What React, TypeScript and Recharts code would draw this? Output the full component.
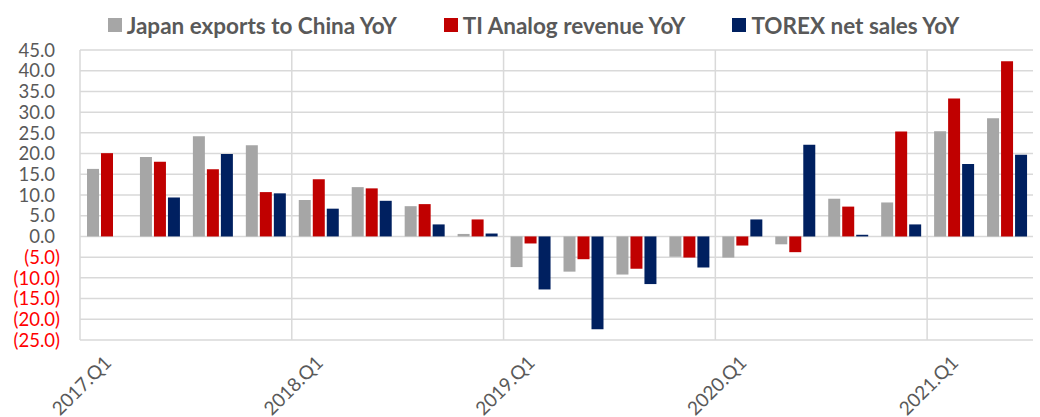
import {
  Bar,
  BarChart,
  CartesianGrid,
  Legend,
  XAxis,
  YAxis,
} from "recharts";

const quarters = [
  "2017.Q1", "2017.Q2", "2017.Q3", "2017.Q4",
  "2018.Q1", "2018.Q2", "2018.Q3", "2018.Q4",
  "2019.Q1", "2019.Q2", "2019.Q3", "2019.Q4",
  "2020.Q1", "2020.Q2", "2020.Q3", "2020.Q4",
  "2021.Q1", "2021.Q2",
];

const japanExports = [16.3, 19.2, 24.2, 22.0, 8.8, 11.9, 7.3, 0.6, -7.4, -8.5, -9.2, -4.9, -5.1, -1.9, 9.1, 8.2, 25.4, 28.5];
const tiAnalog = [20.1, 18.0, 16.2, 10.7, 13.8, 11.6, 7.8, 4.1, -1.7, -5.5, -7.8, -5.1, -2.2, -3.8, 7.2, 25.3, 33.3, 42.3];
const torexSales = [null, 9.4, 19.9, 10.4, 6.7, 8.6, 2.9, 0.7, -12.8, -22.4, -11.5, -7.5, 4.1, 22.1, 0.4, 2.9, 17.5, 19.7];

const yTicks = [-25, -20, -15, -10, -5, 0, 5, 10, 15, 20, 25, 30, 35, 40, 45];

const seriesInfo = [
  { key: "japan", name: "Japan exports to China YoY", color: "#a6a6a6" },
  { key: "ti", name: "TI Analog revenue YoY", color: "#c00000" },
  { key: "torex", name: "TOREX net sales YoY", color: "#002060" },
];

const data = quarters.map((q, i) => ({
  quarter: q,
  japan: japanExports[i],
  ti: tiAnalog[i],
  torex: torexSales[i],
}));

const FONT = "Lato, 'Open Sans', sans-serif";
const TEXT = "#595959";

function YTick({ x, y, payload }: any) {
  const v = payload.value as number;
  const neg = v < 0;
  const label = neg ? `(${Math.abs(v).toFixed(1)})` : v.toFixed(1);
  return (
    <text
      x={neg ? x : x - 5}
      y={y}
      dy="0.36em"
      textAnchor="end"
      fill={neg ? "#ff0000" : TEXT}
      fontSize={18.5}
      fontFamily={FONT}
    >
      {label}
    </text>
  );
}

function XTick({ x, y, payload }: any) {
  return (
    <g transform={`translate(${x + 6},${y + 24})`}>
      <text
        textAnchor="end"
        transform="rotate(-45)"
        fill={TEXT}
        fontSize={19}
        fontFamily={FONT}
      >
        {payload.value}
      </text>
    </g>
  );
}

function LegendBox() {
  return (
    <div
      style={{
        display: "flex",
        justifyContent: "center",
        gap: 47,
        height: 30,
        paddingLeft: 34,
        alignItems: "center",
        fontFamily: FONT,
        fontWeight: 700,
        fontSize: 22.5,
        color: TEXT,
        whiteSpace: "nowrap",
      }}
    >
      {seriesInfo.map((s) => (
        <div key={s.key} style={{ display: "flex", alignItems: "center" }}>
          <span
            style={{
              display: "inline-block",
              width: 14,
              height: 14,
              background: s.color,
              marginRight: 5,
            }}
          />
          <span>{s.name}</span>
        </div>
      ))}
    </div>
  );
}

export default function App() {
  return (
    <div style={{ position: "absolute", left: 0, top: 0, background: "#fff" }}>
      <BarChart
        width={1040}
        height={417}
        data={data}
        margin={{ top: 20, right: 7, left: 0, bottom: 0 }}
        barCategoryGap={7}
        barGap={2}
      >
        <CartesianGrid
          stroke="#d9d9d9"
          strokeWidth={1.5}
          verticalCoordinatesGenerator={({ offset }: any) =>
            [0, 4, 8, 12, 16].map((i) => offset.left + (i * offset.width) / quarters.length)
          }
        />
        <XAxis
          dataKey="quarter"
          interval={3}
          axisLine={false}
          tickLine={false}
          tickSize={0}
          tickMargin={0}
          height={77}
          tick={<XTick />}
        />
        <YAxis
          domain={[-25, 45]}
          ticks={yTicks}
          interval={0}
          width={80}
          axisLine={false}
          tickLine={false}
          tickSize={0}
          tickMargin={20}
          tick={<YTick />}
        />
        <Legend
          verticalAlign="top"
          wrapperStyle={{ top: 10 }}
          content={() => <LegendBox />}
        />
        {seriesInfo.map((s) => (
          <Bar
            key={s.key}
            dataKey={s.key}
            name={s.name}
            fill={s.color}
            isAnimationActive={false}
          />
        ))}
      </BarChart>
    </div>
  );
}
